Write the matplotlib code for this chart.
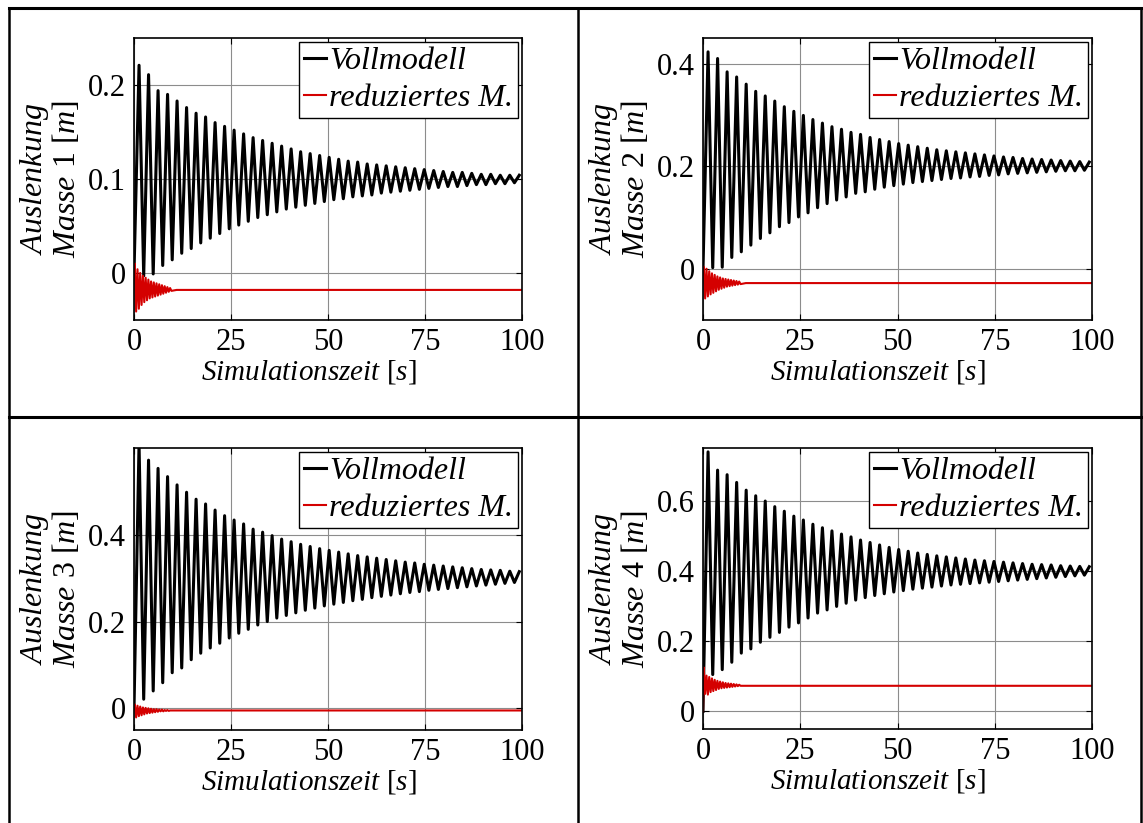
import numpy as np
import matplotlib
matplotlib.use("Agg")
import matplotlib.pyplot as plt
from matplotlib.lines import Line2D

plt.rcParams["font.family"] = ["Liberation Serif", "DejaVu Serif"]
plt.rcParams["mathtext.fontset"] = "custom"
plt.rcParams["mathtext.rm"] = "Liberation Serif"
plt.rcParams["mathtext.it"] = "Liberation Serif:italic"

t_peak = 1.3 + 2.45 * np.arange(41)
t_trough = 2.5 + 2.45 * np.arange(40)
t_red = 0.2 + 0.35 * np.arange(28)

# Vollmodell: Maxima / Minima je Masse
peaks_1 = [0.221, 0.211, 0.194, 0.190, 0.183, 0.176, 0.170, 0.166, 0.160, 0.156,
           0.152, 0.148, 0.144, 0.141, 0.138, 0.135, 0.132, 0.129, 0.127, 0.125,
           0.123, 0.121, 0.119, 0.118, 0.116, 0.115, 0.114, 0.113, 0.112, 0.111,
           0.110, 0.109, 0.108, 0.107, 0.107, 0.106, 0.105, 0.105, 0.104, 0.104, 0.104]
troughs_1 = [-0.003, -0.001, 0.008, 0.014, 0.021, 0.026, 0.032, 0.037, 0.042, 0.047,
             0.051, 0.055, 0.059, 0.062, 0.065, 0.068, 0.070, 0.072, 0.074, 0.076,
             0.078, 0.079, 0.081, 0.082, 0.083, 0.085, 0.086, 0.087, 0.088, 0.089,
             0.090, 0.091, 0.092, 0.092, 0.093, 0.094, 0.094, 0.095, 0.095, 0.096]

peaks_2 = [0.423, 0.410, 0.384, 0.374, 0.360, 0.346, 0.337, 0.327, 0.316, 0.307,
           0.299, 0.291, 0.284, 0.277, 0.272, 0.266, 0.262, 0.256, 0.252, 0.248,
           0.244, 0.241, 0.238, 0.235, 0.232, 0.230, 0.228, 0.226, 0.224, 0.222,
           0.220, 0.218, 0.217, 0.215, 0.214, 0.213, 0.212, 0.211, 0.210, 0.209, 0.208]
troughs_2 = [0.002, 0.003, 0.022, 0.033, 0.046, 0.059, 0.070, 0.082, 0.090, 0.101,
             0.109, 0.119, 0.127, 0.134, 0.140, 0.147, 0.150, 0.155, 0.159, 0.162,
             0.165, 0.168, 0.170, 0.172, 0.174, 0.176, 0.177, 0.179, 0.180, 0.182,
             0.183, 0.185, 0.186, 0.187, 0.188, 0.189, 0.190, 0.191, 0.191, 0.192]

peaks_3 = [0.610, 0.572, 0.553, 0.534, 0.515, 0.498, 0.482, 0.471, 0.457, 0.444,
           0.434, 0.425, 0.413, 0.406, 0.398, 0.390, 0.384, 0.378, 0.373, 0.368,
           0.364, 0.360, 0.356, 0.352, 0.349, 0.346, 0.343, 0.340, 0.337, 0.335,
           0.332, 0.330, 0.328, 0.326, 0.324, 0.322, 0.320, 0.319, 0.318, 0.316, 0.315]
troughs_3 = [0.021, 0.040, 0.059, 0.082, 0.093, 0.112, 0.127, 0.139, 0.150, 0.162,
             0.173, 0.182, 0.192, 0.200, 0.208, 0.214, 0.220, 0.226, 0.231, 0.236,
             0.240, 0.244, 0.248, 0.251, 0.255, 0.258, 0.261, 0.264, 0.267, 0.269,
             0.272, 0.274, 0.276, 0.278, 0.280, 0.282, 0.284, 0.286, 0.288, 0.290]

peaks_4 = [0.739, 0.687, 0.674, 0.652, 0.630, 0.614, 0.599, 0.583, 0.570, 0.556,
           0.545, 0.533, 0.523, 0.514, 0.505, 0.497, 0.488, 0.481, 0.474, 0.467,
           0.461, 0.456, 0.451, 0.447, 0.443, 0.440, 0.437, 0.434, 0.431, 0.429,
           0.427, 0.425, 0.423, 0.421, 0.419, 0.418, 0.417, 0.415, 0.414, 0.413, 0.412]
troughs_4 = [0.105, 0.119, 0.140, 0.166, 0.178, 0.197, 0.211, 0.225, 0.240, 0.252,
             0.266, 0.280, 0.289, 0.299, 0.308, 0.317, 0.324, 0.330, 0.335, 0.340,
             0.344, 0.348, 0.351, 0.354, 0.357, 0.360, 0.362, 0.364, 0.366, 0.368,
             0.370, 0.372, 0.374, 0.376, 0.378, 0.380, 0.382, 0.384, 0.386, 0.388]

# reduziertes Modell: Einschwingen und Endwert
red_1 = [0.010, -0.041, 0.004, -0.038, 0.000, -0.034, -0.003, -0.031, -0.005, -0.029,
         -0.007, -0.027, -0.009, -0.026, -0.010, -0.025, -0.011, -0.024, -0.012, -0.023,
         -0.013, -0.022, -0.014, -0.021, -0.015, -0.020, -0.016, -0.019]
red_2 = [0.004, -0.058, 0.000, -0.054, -0.005, -0.050, -0.009, -0.047, -0.012, -0.044,
         -0.015, -0.041, -0.017, -0.039, -0.019, -0.037, -0.020, -0.035, -0.021, -0.034,
         -0.022, -0.033, -0.023, -0.032, -0.024, -0.031, -0.025, -0.030]
red_3 = [0.009, -0.021, 0.006, -0.018, 0.004, -0.016, 0.002, -0.014, 0.001, -0.012,
         0.000, -0.011, -0.001, -0.010, -0.002, -0.009, -0.002, -0.008, -0.003, -0.007,
         -0.003, -0.007, -0.004, -0.006, -0.004, -0.006, -0.005, -0.005]
red_4 = [0.125, 0.050, 0.102, 0.048, 0.098, 0.055, 0.094, 0.058, 0.090, 0.061,
         0.087, 0.064, 0.085, 0.066, 0.083, 0.067, 0.081, 0.068, 0.080, 0.069,
         0.079, 0.070, 0.078, 0.071, 0.077, 0.072, 0.076, 0.073]
red_end = [-0.018, -0.028, -0.005, 0.073]

masse = ["1", "2", "3", "4"]
ylims = [(-0.05, 0.25), (-0.1, 0.45), (-0.05, 0.6), (-0.05, 0.75)]
yticks = [[0, 0.1, 0.2], [0, 0.2, 0.4], [0, 0.2, 0.4], [0, 0.2, 0.4, 0.6]]
xticks = [0, 25, 50, 75, 100]

peaks = [peaks_1, peaks_2, peaks_3, peaks_4]
troughs = [troughs_1, troughs_2, troughs_3, troughs_4]
reds = [red_1, red_2, red_3, red_4]

W, H = 1143, 823
fig = plt.figure(figsize=(W / 100, H / 100), dpi=100)

# Achsenrahmen in Pixeln (links, rechts, oben, unten)
boxes = [(134, 522, 38, 320), (703, 1092, 38, 320),
         (134, 522, 448, 730), (703, 1092, 448, 729)]

fs_tick = 22
fs_lab = 21
fs_ylab = 23
fs_leg = 23
for i in range(4):
    l, r, t, b = boxes[i]
    ax = fig.add_axes([l / W, 1 - b / H, (r - l) / W, (b - t) / H])

    tx = [0.0]
    vy = [0.0]
    for k in range(len(peaks[i])):
        tx.append(t_peak[k])
        vy.append(peaks[i][k])
        if k < len(troughs[i]):
            tx.append(t_trough[k])
            vy.append(troughs[i][k])
    ax.plot(tx, vy, color="black", lw=2.2, solid_joinstyle="round",
            label="Vollmodell")

    rx = np.concatenate([[0.0], t_red, [11.0, 100.0]])
    ry = np.concatenate([[0.0], reds[i], [red_end[i], red_end[i]]])
    ax.plot(rx, ry, color="#d40000", lw=1.5, label="reduziertes M.")

    ax.set_xlim(0, 100)
    ax.set_ylim(*ylims[i])
    ax.set_xticks(xticks)
    ax.set_xticklabels([str(v) for v in xticks])
    ax.set_yticks(yticks[i])
    ax.set_yticklabels([f"{v:g}" for v in yticks[i]])
    ax.tick_params(direction="in", length=4, width=0.8, labelsize=fs_tick,
                   top=True, right=True, pad=6)
    ax.grid(True, color="#8c8c8c", lw=0.8)
    for s in ax.spines.values():
        s.set_linewidth(1.2)

    ax.set_xlabel(r"$\mathit{Simulationszeit}$ [$\mathit{s}$]", fontsize=fs_lab)
    ax.xaxis.set_label_coords(0.45, -0.135)
    ax.set_ylabel(r"$\mathit{Auslenkung}$" + "\n" + r"$\mathit{Masse}$ " + masse[i]
                  + r" [$\mathit{m}$]", fontsize=fs_ylab, linespacing=1.0,
                  labelpad=4)

    leg = ax.legend(loc="upper right", prop={"size": fs_leg, "style": "italic"},
                    handlelength=0.7, handletextpad=0.1, borderpad=0.15,
                    borderaxespad=0.12, labelspacing=0.25, fancybox=False,
                    framealpha=1, edgecolor="black")
    leg.get_frame().set_linewidth(1.0)

# Tabellenrahmen
def fig_line(x0, y0, x1, y1, lw):
    fig.add_artist(Line2D([x0 / W, x1 / W], [1 - y0 / H, 1 - y1 / H],
                          color="black", lw=lw, transform=fig.transFigure))

fig_line(9, 8, 1143, 8, 2.2)
fig_line(9, 8, 9, 823, 1.8)
fig_line(578, 8, 578, 823, 1.8)
fig_line(1141, 8, 1141, 823, 1.8)
fig_line(9, 417, 1143, 417, 2.2)

fig.savefig("out.png", dpi=100)
